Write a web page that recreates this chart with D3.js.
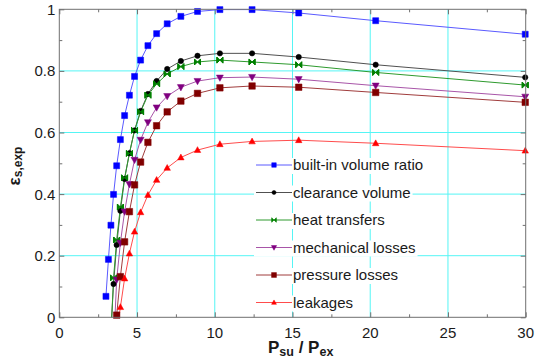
<!DOCTYPE html>
<html>
<head>
<meta charset="utf-8">
<script src="https://cdn.jsdelivr.net/npm/d3@7"></script>
<style>
  body { margin: 0; background: #fff; }
  text { font-family: Arial, "Liberation Sans", sans-serif; }
</style>
</head>
<body>
<svg id="chart"></svg>
<script>
// pressure ratio values (shared by every curve)
const pressureRatio = [3.00, 3.16, 3.32, 3.49, 3.69, 3.93, 4.20, 4.51, 4.84, 5.23, 5.70, 6.26, 6.94, 7.82, 8.89, 10.33, 12.40, 15.40, 20.35, 29.97];

// isentropic efficiency per loss source (null = no point, negatives fall below the axis)
const builtInVolume = [0.068, 0.188, 0.299, 0.399, 0.492, 0.577, 0.655, 0.721, 0.782, 0.835, 0.882, 0.921, 0.953, 0.977, 0.993, 0.999, 0.999, 0.988, 0.963, 0.919];
const clearanceVolume = [null, null, -0.045, 0.108, 0.235, 0.346, 0.449, 0.533, 0.607, 0.670, 0.725, 0.767, 0.806, 0.832, 0.849, 0.857, 0.857, 0.845, 0.820, 0.779];
const heatTransfers = [null, null, -0.055, 0.128, 0.251, 0.358, 0.453, 0.532, 0.607, 0.667, 0.721, 0.758, 0.790, 0.814, 0.829, 0.835, 0.829, 0.820, 0.795, 0.754];
const mechanicalLosses = [null, null, null, -0.10, 0.122, 0.242, 0.343, 0.432, 0.511, 0.576, 0.633, 0.681, 0.718, 0.747, 0.767, 0.778, 0.780, 0.773, 0.752, 0.716];
const pressureLosses = [null, null, null, -0.12, 0.007, 0.132, 0.245, 0.343, 0.430, 0.504, 0.568, 0.622, 0.667, 0.702, 0.727, 0.745, 0.751, 0.747, 0.730, 0.698];
const leakages = [null, null, null, null, -0.055, 0.033, 0.126, 0.207, 0.278, 0.341, 0.397, 0.446, 0.485, 0.519, 0.543, 0.562, 0.571, 0.575, 0.565, 0.541];

const seriesNames = ["built-in volume ratio", "clearance volume", "heat transfers", "mechanical losses", "pressure losses", "leakages"];

const xTicks = [0, 5, 10, 15, 20, 25, 30];
const yTicks = [0, 0.2, 0.4, 0.6, 0.8, 1];

const width = 535;
const height = 362;
const margin = { top: 9.3, right: 9.3, bottom: 44.7, left: 59.3 };

const series = [
    { name: seriesNames[0], values: builtInVolume, color: "#0000ff", line: "#5a5aff", shape: "square", size: 6 },
    { name: seriesNames[1], values: clearanceVolume, color: "#000000", line: "#505050", shape: "circle", size: 5.4 },
    { name: seriesNames[2], values: heatTransfers, color: "#008000", line: "#2e9a2e", shape: "bowtie", size: 6 },
    { name: seriesNames[3], values: mechanicalLosses, color: "#800080", line: "#a855a8", shape: "down", size: 7 },
    { name: seriesNames[4], values: pressureLosses, color: "#800000", line: "#a03c3c", shape: "square", size: 6.5 },
    { name: seriesNames[5], values: leakages, color: "#ff0000", line: "#ff4c4c", shape: "up", size: 6.5 }
];

const svg = d3.select("#chart")
    .attr("width", width)
    .attr("height", height);

const xScale = d3.scaleLinear()
    .domain([0, 30])
    .range([margin.left, width - margin.right]);

const yScale = d3.scaleLinear()
    .domain([0, 1])
    .range([height - margin.bottom, margin.top]);

const x0 = xScale.range()[0], x1 = xScale.range()[1];
const y0 = yScale.range()[0], y1 = yScale.range()[1];

svg.append("defs").append("clipPath")
    .attr("id", "plot-clip")
    .append("rect")
    .attr("x", x0).attr("y", y1)
    .attr("width", x1 - x0).attr("height", y0 - y1);

// grid lines
const grid = svg.append("g").attr("class", "grid");
grid.selectAll("line.vertical")
    .data(xTicks.slice(1, -1))
    .enter().append("line")
    .attr("x1", d => xScale(d)).attr("x2", d => xScale(d))
    .attr("y1", y1).attr("y2", y0)
    .style("stroke", "#55f5f5");
grid.selectAll("line.horizontal")
    .data(yTicks.slice(1, -1))
    .enter().append("line")
    .attr("y1", d => yScale(d)).attr("y2", d => yScale(d))
    .attr("x1", x0).attr("x2", x1)
    .style("stroke", "#55f5f5");

// axes: ticks inside, on every side
const xMinor = d3.range(2.5, 30, 5);
const yMinor = d3.range(0.1, 1, 0.2);
const axisColor = "#707070";

function tickAxis(axisFn, scale, values, size, pos) {
    return svg.append("g")
        .attr("transform", pos)
        .call(axisFn(scale).tickValues(values).tickSize(size).tickFormat(""))
        .call(g => g.select(".domain").remove())
        .call(g => g.selectAll("line").style("stroke", axisColor));
}
tickAxis(d3.axisBottom, xScale, xMinor, -3, `translate(0,${y0})`);
tickAxis(d3.axisTop, xScale, xMinor, -3, `translate(0,${y1})`);
tickAxis(d3.axisLeft, yScale, yMinor, -3, `translate(${x0},0)`);
tickAxis(d3.axisRight, yScale, yMinor, -3, `translate(${x1},0)`);
tickAxis(d3.axisBottom, xScale, xTicks, -5, `translate(0,${y0})`);
tickAxis(d3.axisTop, xScale, xTicks, -5, `translate(0,${y1})`);
tickAxis(d3.axisLeft, yScale, yTicks, -5, `translate(${x0},0)`);
tickAxis(d3.axisRight, yScale, yTicks, -5, `translate(${x1},0)`);

// tick labels
svg.append("g")
    .selectAll("text")
    .data(xTicks)
    .enter().append("text")
    .attr("x", d => xScale(d))
    .attr("y", y0 + 21)
    .attr("text-anchor", "middle")
    .style("font-size", "15px")
    .style("fill", "#1a1a1a")
    .text(d => d);

svg.append("g")
    .selectAll("text")
    .data(yTicks)
    .enter().append("text")
    .attr("x", x0 - 4)
    .attr("y", d => yScale(d) + 5.5)
    .attr("text-anchor", "end")
    .style("font-size", "15px")
    .style("fill", "#1a1a1a")
    .text(d => d);

// curves
const line = d3.line()
    .defined(d => d.y !== null)
    .x(d => xScale(d.x))
    .y(d => yScale(d.y));

function markerPath(shape, s) {
    const h = s / 2;
    if (shape === "square") return `M${-h},${-h}H${h}V${h}H${-h}Z`;
    if (shape === "up") return `M0,${-h * 1.05}L${h},${h * 0.75}L${-h},${h * 0.75}Z`;
    if (shape === "down") return `M0,${h * 1.05}L${h},${-h * 0.75}L${-h},${-h * 0.75}Z`;
    if (shape === "bowtie") return `M${-h},${-h}L0,0L${-h},${h}Z M${h},${-h}L0,0L${h},${h}Z M${-h},${-h}V${h} M${h},${-h}V${h}`;
    return d3.symbol(d3.symbolCircle, Math.PI * h * h)();
}

const plot = svg.append("g");
series.forEach(s => {
    const pts = pressureRatio.map((x, i) => ({ x: x, y: s.values[i] }));
    plot.append("path")
        .datum(pts)
        .attr("d", line)
        .attr("clip-path", "url(#plot-clip)")
        .style("fill", "none")
        .style("stroke", s.line)
        .style("stroke-width", 1);
});
series.forEach(s => {
    const pts = pressureRatio.map((x, i) => ({ x: x, y: s.values[i] }))
        .filter(d => d.y !== null && d.y >= 0);
    plot.selectAll(null)
        .data(pts)
        .enter().append("path")
        .attr("transform", d => `translate(${xScale(d.x)},${yScale(d.y)})`)
        .attr("d", markerPath(s.shape, s.size))
        .style("fill", s.color)
        .style("stroke", s.color)
        .style("stroke-width", s.shape === "bowtie" ? 1 : 0.5);
});

// frame
svg.append("rect")
    .attr("x", x0).attr("y", y1)
    .attr("width", x1 - x0).attr("height", y0 - y1)
    .style("fill", "none")
    .style("stroke", axisColor)
    .style("stroke-width", 1);

// legend, each entry on its own white box
const legendY = d3.scaleLinear().domain([0, 5]).range([165, 302.5]);
const legend = svg.append("g");
series.forEach((s, i) => {
    const cy = legendY(i);
    const row = legend.append("g");
    const bg = row.append("rect");
    row.append("line")
        .attr("x1", 256).attr("x2", 292)
        .attr("y1", cy).attr("y2", cy)
        .style("stroke", s.line);
    row.append("path")
        .attr("transform", `translate(274,${cy})`)
        .attr("d", markerPath(s.shape, s.size * 0.75))
        .style("fill", s.color)
        .style("stroke", s.color)
        .style("stroke-width", 0.5);
    const label = row.append("text")
        .attr("x", 293)
        .attr("y", cy + 5.3)
        .style("font-size", "15px")
        .style("fill", "#1a1a1a")
        .text(s.name);
    const w = label.node().getComputedTextLength();
    bg.attr("x", 254).attr("y", cy - 7)
        .attr("width", 293 + w + 2 - 254).attr("height", 16)
        .style("fill", "#fff");
});

// axis titles
const yTitle = svg.append("text")
    .attr("transform", "translate(20,166) rotate(-90)")
    .attr("text-anchor", "middle")
    .style("font-weight", "bold")
    .style("fill", "#1a1a1a");
yTitle.append("tspan").style("font-size", "17px").text("ε");
yTitle.append("tspan").style("font-size", "12px").attr("dy", 2).text("s,exp");

const xTitle = svg.append("text")
    .attr("x", 268)
    .attr("y", 353)
    .style("font-weight", "bold")
    .style("fill", "#1a1a1a");
xTitle.append("tspan").style("font-size", "17px").text("P");
xTitle.append("tspan").style("font-size", "12.5px").attr("dy", 3).text("su");
xTitle.append("tspan").style("font-size", "17px").attr("dy", -3).text(" / P");
xTitle.append("tspan").style("font-size", "12.5px").attr("dy", 3).text("ex");
</script>
</body>
</html>
